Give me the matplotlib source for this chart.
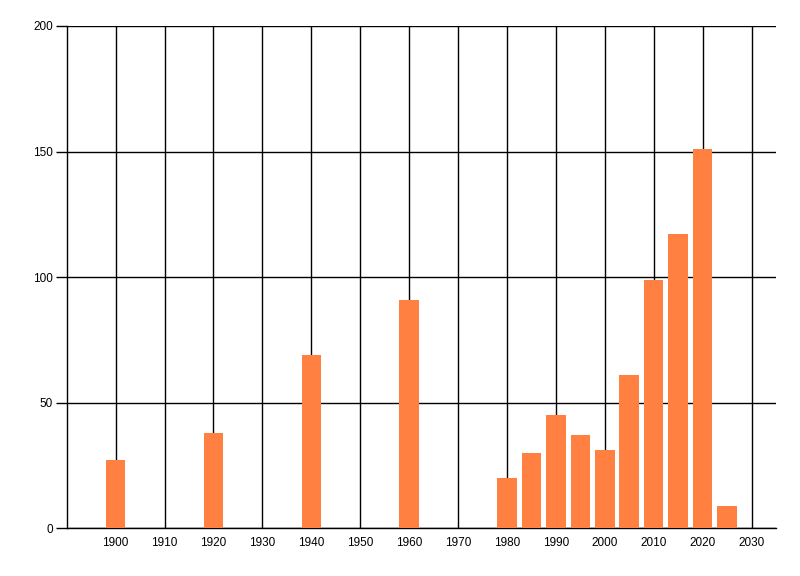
import numpy as np
import matplotlib
matplotlib.use("Agg")
import matplotlib.pyplot as plt


# data
years = [1900, 1920, 1940, 1960, 1980, 1985, 1990, 1995, 2000, 2005, 2010, 2015, 2020, 2025]
counts = [27, 38, 69, 91, 20, 30, 45, 37, 31, 61, 99, 117, 151, 9]

x_ticks = list(range(1900, 2031, 10))
y_ticks = [0, 50, 100, 150, 200]

BAR_COLOR = "#FF8040"

plt.rcParams['font.family'] = ['Liberation Sans', 'DejaVu Sans']

fig = plt.figure(figsize=(8, 5.76), dpi=100)
ax = fig.add_axes([0.0834, 0.0828, 0.8866, 0.8721])

ax.bar(years, counts, width=4, color=BAR_COLOR, zorder=3)

ax.set_xlim(1890, 2035)
ax.set_ylim(0, 200)
ax.set_xticks(x_ticks)
ax.set_yticks(y_ticks)

# black grid behind the bars
ax.grid(True, color="black", linewidth=1, zorder=0)
ax.set_axisbelow(True)

for side in ["top", "right"]:
    ax.spines[side].set_visible(False)
for side in ["left", "bottom"]:
    ax.spines[side].set_color("black")
    ax.spines[side].set_linewidth(1)

ax.tick_params(axis="x", length=0, pad=6, labelsize=8.5, colors="black")
ax.tick_params(axis="y", length=8, width=1, pad=2, labelsize=8.5, colors="black")

fig.savefig("out.png", dpi=100)
